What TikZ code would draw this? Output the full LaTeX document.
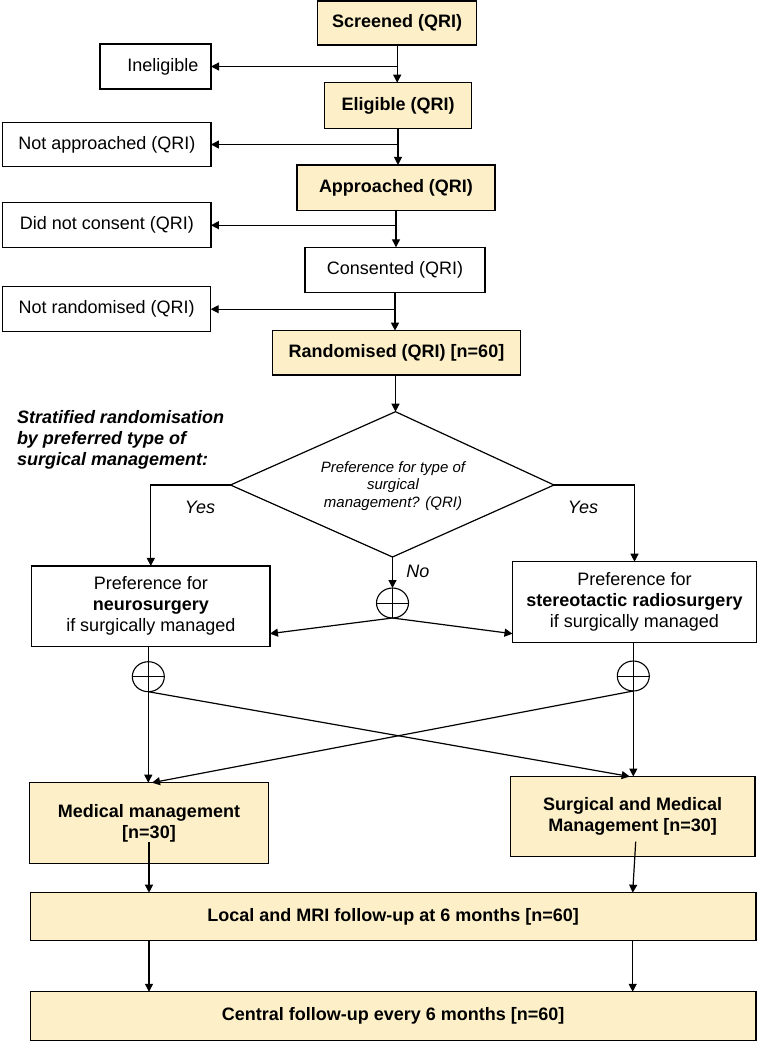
\documentclass[tikz,border=0pt]{standalone}
\usepackage{fontspec}
\setmainfont{Liberation Sans}
\usetikzlibrary{arrows.meta,calc,shapes.geometric}
\definecolor{boxfill}{RGB}{253,240,200}
\begin{document}
\begin{tikzpicture}[x=1pt,y=-1pt,
  every node/.style={inner sep=0pt, outer sep=0pt},
  base/.style={draw=black, line width=1.3pt, rectangle, align=center, font=\fontsize{18}{21}\selectfont},
  yel/.style={base, fill=boxfill, font=\fontsize{18}{21}\selectfont\bfseries},
  wht/.style={base, fill=white},
  arr/.style={line width=1.2pt, -{Triangle[length=8pt,width=8pt]}},
  ln/.style={line width=1.2pt},
  lab/.style={font=\fontsize{18}{21}\selectfont\itshape},
  oplus/.style={draw, line width=1.1pt, ellipse, minimum width=32, minimum height=30}]
\useasboundingbox (0,0) rectangle (761,1042);
% top chain
\node[yel, minimum width=159, minimum height=44] (scr) at (397.2,23) {Screened (QRI)};
\node[wht, minimum width=111, minimum height=45, text width=86, align=right] (inel) at (155.5,66.5) {Ineligible};
\node[yel, minimum width=146.7, minimum height=45.6] (elig) at (398,105.5) {Eligible (QRI)};
\node[wht, minimum width=208.3, minimum height=44.4] (napp) at (106.8,144.5) {Not approached (QRI)};
\node[yel, minimum width=198, minimum height=45.7] (appr) at (396,187.8) {Approached (QRI)};
\node[wht, minimum width=208.3, minimum height=45] (ncons) at (106.8,225.2) {Did not consent (QRI)};
\node[wht, minimum width=180, minimum height=45.4] (cons) at (395,270) {Consented (QRI)};
\node[wht, minimum width=208, minimum height=45] (nrand) at (106.7,309.2) {Not randomised (QRI)};
\node[yel, minimum width=248.4, minimum height=44.3] (rand) at (396.5,352.8) {Randomised (QRI) [n=60]};
\draw[arr] (scr.south) -- (scr.south |- elig.north);
\draw[arr] (scr.south |- inel.east) -- (inel.east);
\draw[arr] (elig.south) -- (elig.south |- appr.north);
\draw[arr] (elig.south |- napp.east) -- (napp.east);
\draw[arr] (appr.south) -- (appr.south |- cons.north);
\draw[arr] (appr.south |- ncons.east) -- (ncons.east);
\draw[arr] (cons.south) -- (cons.south |- rand.north);
\draw[arr] (cons.south |- nrand.east) -- (nrand.east);
% diamond
\coordinate (dtop) at (395.5,411.7);
\coordinate (dleft) at (230.5,485);
\coordinate (dright) at (554,485);
\coordinate (dbot) at (392.5,557);
\draw[ln] (dtop) -- (dright) -- (dbot) -- (dleft) -- cycle;
\node[font=\fontsize{15}{17.5}\selectfont\itshape, align=center] (dq) at (393,486) {Preference for type of\\surgical\\management? (QRI)};
\draw[arr] (rand.south -| dtop) -- (dtop);
\node[font=\fontsize{18}{21}\selectfont\bfseries\itshape, align=left, anchor=west] (strat) at (17,440) {Stratified randomisation\\by preferred type of\\surgical management:};
\node[lab] (yesl) at (200,507) {Yes};
\node[lab] (yesr) at (583,507) {Yes};
\node[lab] (no) at (418,571) {No};
% preference boxes
\node[wht, minimum width=238.3, minimum height=80.7] (nsurg) at (150.8,606.3) {Preference for\\\textbf{neurosurgery}\\if surgically managed};
\node[wht, minimum width=244, minimum height=81] (srs) at (634.5,602.2) {Preference for\\\textbf{stereotactic radiosurgery}\\if surgically managed};
\draw[arr] (dleft) -| (nsurg.north);
\draw[arr] (dright) -| (srs.north);
% circles
\node[oplus] (c0) at (392.5,603) {};
\node[oplus] (c1) at (148.3,676.7) {};
\node[oplus] (c2) at (633.3,676) {};
\foreach \c in {c0,c1,c2}{
  \draw[line width=1pt] (\c.north) -- (\c.south) (\c.west) -- (\c.east);
}
\draw[arr] (dbot) -- (c0.north);
\draw[arr] (c0.south) -- ($(nsurg.south east)+(0,-13)$);
\draw[arr] (c0.south) -- ($(srs.south west)+(0,-9)$);
\draw[ln] (c1.north |- nsurg.south) -- (c1.north);
\draw[ln] (c2.north |- srs.south) -- (c2.north);
% arms
\node[yel, minimum width=239, minimum height=80.6] (med) at (149,823) {Medical management\\{[n=30]}};
\node[yel, minimum width=244.5, minimum height=80.2] (surgmed) at (632.7,816.6) {Surgical and Medical\\Management [n=30]};
\draw[arr] (c1.south) -- (c1.south |- med.north);
\draw[arr] (c2.south) -- (c2.south |- surgmed.north);
\draw[arr] (c1.south) -- ($(surgmed.north)+(-3,0)$);
\draw[arr] (c2.south) -- ($(med.north)+(3,0)$);
% follow-up
\node[yel, minimum width=725.5, minimum height=48] (local) at (393.2,916.7) {Local and MRI follow-up at 6 months [n=60]};
\node[yel, minimum width=725.7, minimum height=49] (central) at (393.2,1016.3) {Central follow-up every 6 months [n=60]};
\draw[arr] ($(med.center)+(0,19)$) -- (med.center |- local.north);
\draw[arr] ($(surgmed.center)+(3,25)$) -- (surgmed.center |- local.north);
\draw[arr] (local.south -| med.center) -- (central.north -| med.center);
\draw[arr] (local.south -| surgmed.center) -- (central.north -| surgmed.center);
\end{tikzpicture}
\end{document}
